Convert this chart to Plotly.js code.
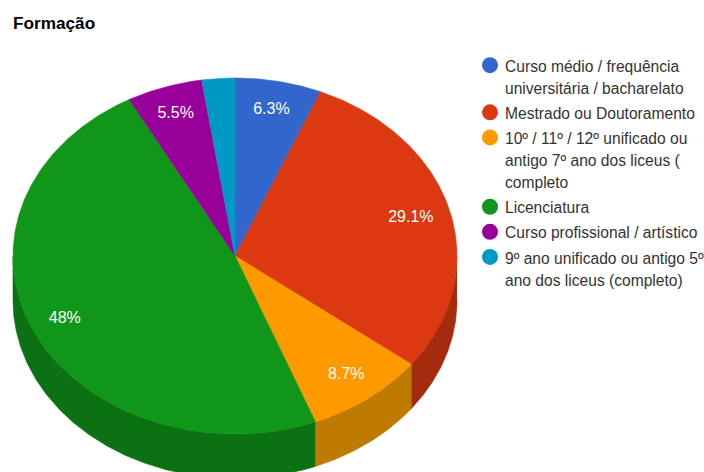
<!DOCTYPE html>
<html>
<head>
<meta charset="utf-8">
<script src="https://cdn.plot.ly/plotly-3.0.1.min.js"></script>
<style>html,body{margin:0;padding:0;background:#fff}#chart{width:704px;height:472px}</style>
</head>
<body>
<div id="chart"></div>
<script>
var chartTitle = "Formação";
var categories = [
  "Curso médio / frequência<br>universitária / bacharelato",
  "Mestrado ou Doutoramento",
  "10º / 11º / 12º unificado ou<br>antigo 7º ano dos liceus (<br>completo",
  "Licenciatura",
  "Curso profissional / artístico",
  "9º ano unificado ou antigo 5º<br>ano dos liceus (completo)"
];
var shares = [6.3, 29.1, 8.7, 48, 5.5, 2.4];
var sliceLabels = ["6.3%", "29.1%", "8.7%", "48%", "5.5%", ""];
var topColors = ["#3366cc", "#dc3912", "#ff9900", "#109618", "#990099", "#0099c6"];
var wallColors = ["#264d99", "#a52b0e", "#bf7a00", "#0c7112", "#730073", "#007395"];

var FONT = "Arial, 'Liberation Sans', sans-serif";
var depth = 0.25;
var labelRadii = [0.835, 0.82, 0.835, 0.845, 0.84, 0.84];
var total = shares.reduce(function (a, b) { return a + b; }, 0);

function px(t) { return Math.sin(t); }
function py(t) { return Math.cos(t); }
function arc(t0, t1, dy) {
  var n = Math.max(2, Math.ceil(Math.abs(t1 - t0) / 0.01)), xs = [], ys = [];
  for (var i = 0; i <= n; i++) {
    var t = t0 + (t1 - t0) * i / n;
    xs.push(px(t)); ys.push(py(t) + dy);
  }
  return { x: xs, y: ys };
}

var walls = [], tops = [], legendItems = [];
var labelX = [], labelY = [];
var acc = 0;
shares.forEach(function (v, i) {
  var a0 = acc / total * 2 * Math.PI;
  acc += v;
  var a1 = acc / total * 2 * Math.PI;
  var lo = Math.max(a0, Math.PI / 2), hi = Math.min(a1, 3 * Math.PI / 2);
  if (hi > lo) {
    var up = arc(lo, hi, 0), down = arc(hi, lo, -depth);
    walls.push({
      type: "scatter", mode: "lines", fill: "toself", fillcolor: wallColors[i],
      x: up.x.concat(down.x), y: up.y.concat(down.y),
      line: { width: 0.6, color: wallColors[i] }, hoverinfo: "skip", showlegend: false
    });
  }
  var rim = arc(a0, a1, 0);
  tops.push({
    type: "scatter", mode: "lines", fill: "toself", fillcolor: topColors[i],
    x: [0].concat(rim.x, [0]), y: [0].concat(rim.y, [0]),
    line: { width: 0.6, color: topColors[i] },
    name: categories[i], hoverinfo: "name", showlegend: false
  });
  var mid = (a0 + a1) / 2;
  labelX.push(labelRadii[i] * px(mid));
  labelY.push(labelRadii[i] * py(mid));
  legendItems.push({
    type: "scatter", mode: "markers", x: [null], y: [null],
    marker: { size: 16, color: topColors[i] },
    name: '<span style="font-size:15.6px">' + categories[i] + '</span>', showlegend: true
  });
});

var labelTrace = {
  type: "scatter", mode: "text", x: labelX, y: labelY, text: sliceLabels,
  textposition: "middle center", textfont: { family: FONT, size: 16, color: "#ffffff" },
  hoverinfo: "skip", showlegend: false
};

var W = 704, H = 472, cx = 235, cy = 256, rx = 222, ry = 178;
var layout = {
  width: W, height: H, paper_bgcolor: "#fff", plot_bgcolor: "#fff",
  margin: { l: 0, r: 0, t: 0, b: 0, pad: 0, autoexpand: false },
  title: { text: "<b>" + chartTitle + "</b>", x: 13 / W, xref: "paper", xanchor: "left",
           y: 1 - 23 / H, yref: "container", yanchor: "middle",
           font: { family: FONT, size: 17.2, color: "#000" } },
  xaxis: { visible: false, range: [-cx / rx, (W - cx) / rx], fixedrange: true },
  yaxis: { visible: false, range: [-(H - cy) / ry, cy / ry], fixedrange: true },
  showlegend: true,
  legend: { x: 470 / W, y: 1 - 47.6 / H, xanchor: "left", yanchor: "top", traceorder: "normal",
            indentation: -5, valign: "top", itemclick: false, itemdoubleclick: false,
            bgcolor: "rgba(0,0,0,0)", font: { family: FONT, size: 17, color: "#333" } }
};

Plotly.newPlot("chart", walls.concat(tops, [labelTrace], legendItems), layout,
               { displayModeBar: false, responsive: false }).then(function (gd) {
  function nudge() {
    gd.querySelectorAll("g.legendsymbols").forEach(function (g) {
      g.setAttribute("transform", "translate(5,0)");
    });
  }
  nudge();
  gd.on("plotly_afterplot", nudge);
});
</script>
</body>
</html>
